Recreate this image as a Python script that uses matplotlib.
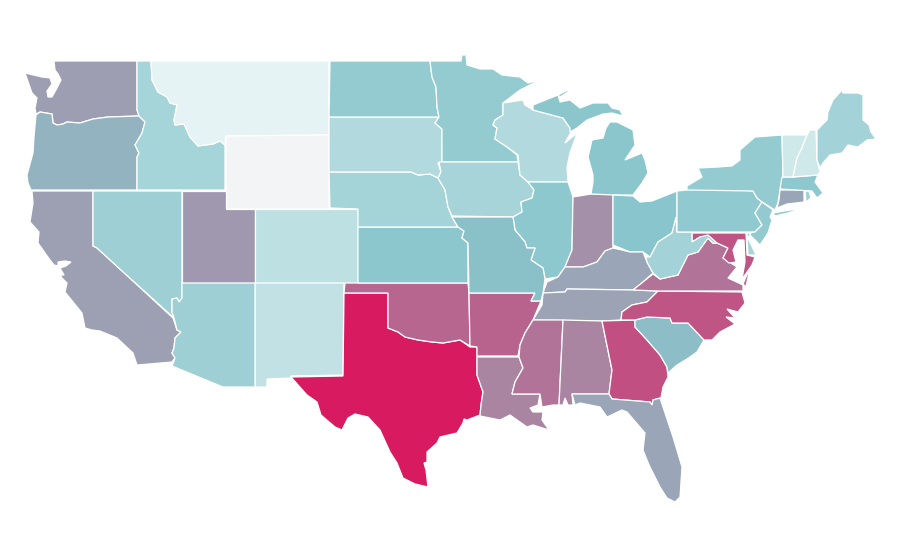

import matplotlib
matplotlib.use("Agg")
import matplotlib.pyplot as plt
from matplotlib.colors import LinearSegmentedColormap

# outlines: x, y in picture pixels, one list of rings per state
WA = [[(54,61),(137,61),(137,110),(139,116),(108,117),(93,119),(80,123),(67,122),(63,124),(57,125),(53,123),(52,114),(40,112),(36,114),(35,108),(37,98),(32,93),(25,73),(42,77),(50,78),(52,84),(47,91),(48,97),(52,97),(57,88),(61,80),(58,74),(55,70)]]
OR = [[(36,115),(40,112),(52,114),(53,123),(57,125),(63,124),(67,122),(80,123),(93,119),(108,117),(139,116),(145,122),(142,133),(135,145),(139,153),(137,157),(137,190),(31,190),(28,183),(27,175),(33,153),(34,137)]]
CA = [[(32,191),(93,191),(93,246),(97,248),(121,270),(173,318),(177,330),(181,332),(175,338),(174,348),(172,353),(175,358),(172,362),(137,365),(133,353),(117,338),(100,331),(92,330),(85,328),(82,313),(65,292),(67,283),(62,278),(57,270),(60,275),(64,275),(60,268),(66,266),(71,262),(65,261),(58,262),(58,266),(54,265),(50,260),(38,243),(39,232),(30,222),(33,203)]]
NV = [[(93,191),(182,191),(182,298),(179,302),(177,298),(172,299),(172,312),(174,318),(121,270),(97,248),(93,246)]]
ID = [[(137,61),(151,61),(152,80),(158,92),(167,97),(170,103),(177,105),(174,120),(175,125),(184,124),(190,137),(198,146),(213,144),(220,141),(225,145),(225,190),(137,190),(137,157),(139,153),(135,145),(142,133),(145,122),(139,116),(137,110)]]
MT = [[(151,61),(329,61),(329,135),(226,136),(225,145),(220,141),(213,144),(198,146),(190,137),(184,124),(175,125),(174,120),(177,105),(170,103),(167,97),(158,92),(152,80)]]
WY = [[(226,136),(329,135),(329,209),(226,209)]]
UT = [[(182,191),(226,191),(226,209),(255,209),(255,283),(182,283)]]
CO = [[(255,209),(358,209),(358,283),(255,283)]]
NM = [[(255,283),(344,283),(343,375),(291,376),(291,378),(267,379),(267,387),(255,387)]]
AZ = [[(182,283),(255,283),(255,387),(223,387),(172,366),(175,358),(172,353),(174,348),(175,338),(181,332),(177,330),(174,318),(172,312),(172,299),(177,298),(179,302),(182,298)]]
TX = [[(344,293),(388,293),(388,328),(398,332),(405,337),(418,340),(432,342),(443,343),(460,340),(470,347),(477,347),(477,375),(483,392),(481,405),(480,415),(467,420),(464,419),(463,423),(457,433),(440,437),(437,443),(427,452),(427,462),(424,463),(426,470),(428,487),(415,484),(403,478),(397,463),(390,452),(380,430),(368,417),(355,414),(348,418),(342,430),(335,427),(321,415),(317,402),(307,395),(291,377),(343,376)]]
OK = [[(345,283),(468,283),(469,293),(470,346),(460,340),(443,343),(432,342),(418,340),(405,337),(398,332),(388,328),(388,293),(344,293)]]
KS = [[(358,227),(458,227),(464,231),(462,238),(468,243),(468,283),(358,283)]]
NE = [[(329,172),(345,172),(411,172),(418,175),(430,174),(438,178),(445,190),(448,207),(452,217),(458,227),(358,227),(358,209),(330,208)]]
SD = [[(329,117),(439,117),(435,123),(442,129),(442,162),(438,163),(441,172),(438,178),(430,174),(418,175),(411,172),(329,172)]]
ND = [[(330,61),(430,61),(432,77),(436,87),(437,107),(439,117),(329,117)]]
MN = [[(430,61),(461,61),(462,55),(466,55),(467,65),(480,69),(493,69),(502,75),(520,77),(528,83),(540,80),(520,90),(503,103),(503,115),(495,120),(493,125),(497,128),(495,139),(507,147),(517,155),(518,162),(442,162),(442,129),(435,123),(439,117),(437,107),(436,87),(432,77)]]
IA = [[(439,162),(518,162),(520,175),(528,182),(534,190),(532,198),(521,202),(522,212),(513,217),(452,216),(448,207),(445,190),(438,178),(441,172)]]
WI = [[(503,103),(523,100),(525,105),(533,110),(563,118),(570,128),(571,132),(565,143),(577,133),(570,153),(567,167),(568,182),(528,182),(520,175),(518,155),(507,147),(495,139),(497,128),(493,125),(495,120),(503,115)]]
IL = [[(568,182),(528,182),(534,190),(532,198),(521,202),(522,212),(513,217),(515,230),(525,242),(527,248),(535,248),(531,260),(543,268),(545,279),(558,277),(565,267),(572,250),(573,197)]]
IN = [[(573,197),(591,194),(613,194),(613,248),(605,251),(597,262),(583,267),(565,267),(572,250)]]
MI = [[(591,194),(593,182),(593,175),(588,157),(592,140),(603,138),(606,128),(610,122),(617,122),(633,130),(635,145),(625,160),(642,153),(645,160),(648,173),(642,183),(633,195),(613,195)],
      [(533,105),(558,95),(560,102),(570,100),(580,108),(593,103),(600,103),(608,103),(612,108),(620,110),(623,116),(612,113),(603,114),(587,120),(577,128),(570,132),(570,128),(563,118),(533,110)],
      [(558,95),(568,90),(568,92),(560,97)]]
OH = [[(613,195),(633,196),(640,202),(652,201),(677,191),(677,217),(672,233),(658,242),(650,257),(643,252),(630,252),(613,245)]]
KY = [[(543,293),(547,282),(558,277),(565,267),(583,267),(597,262),(605,251),(613,248),(622,250),(630,252),(643,252),(647,262),(653,273),(642,283),(633,290),(567,289),(565,292)]]
TN = [[(543,293),(565,292),(567,289),(633,290),(658,291),(647,302),(632,305),(622,312),(621,320),(602,321),(533,320),(542,305)]]
AR = [[(469,293),(535,293),(531,301),(541,301),(533,320),(525,333),(520,345),(518,356),(477,356),(477,347),(470,346)]]
MO = [[(452,217),(513,217),(515,230),(525,242),(527,248),(535,248),(531,260),(543,268),(545,279),(543,293),(541,301),(531,301),(535,293),(469,293),(468,243),(462,238),(464,231),(458,227)]]
LA = [[(477,357),(519,357),(523,368),(515,382),(512,394),(540,394),(538,405),(530,408),(533,412),(543,412),(542,420),(549,430),(533,425),(527,427),(510,415),(500,420),(480,416),(481,405),(483,392),(477,375)]]
MS = [[(533,320),(563,320),(559,405),(553,405),(542,407),(540,394),(512,394),(515,382),(523,368),(519,357),(520,345),(525,333)]]
AL = [[(563,320),(602,321),(612,370),(609,394),(572,394),(573,405),(568,405),(565,398),(563,405),(559,405)]]
GA = [[(602,321),(635,320),(635,327),(647,340),(660,355),(667,367),(668,377),(663,387),(661,398),(653,400),(652,405),(650,402),(612,399),(609,394),(612,370)]]
SC = [[(635,320),(647,317),(670,318),(672,323),(688,323),(704,340),(697,352),(687,359),(677,365),(668,373),(667,367),(660,355),(647,340),(635,327)]]
NC = [[(658,291),(742,292),(745,303),(738,312),(727,309),(735,318),(726,317),(735,324),(720,332),(712,340),(704,340),(688,323),(672,323),(670,318),(647,317),(635,320),(621,320),(622,312),(632,305),(647,302)]]
FL = [[(572,394),(609,394),(612,399),(650,402),(652,405),(653,400),(660,398),(665,413),(673,437),(682,467),(680,497),(675,502),(667,498),(660,487),(650,467),(647,460),(643,450),(645,433),(627,412),(622,410),(607,417),(600,407),(580,403),(575,405)]]
VA = [[(633,290),(653,274),(660,279),(678,275),(688,255),(698,252),(708,238),(713,243),(717,243),(728,248),(723,258),(737,267),(728,278),(743,285),(743,291),(658,291)],
      [(745,279),(750,268),(746,287),(743,284)]]
MD = [[(692,233),(746,233),(747,255),(755,257),(752,265),(745,275),(742,279),(745,262),(744,240),(738,240),(733,250),(736,262),(729,263),(723,258),(728,248),(717,243),(713,243),(708,238),(700,237),(692,242)]]
WV = [[(646,257),(650,257),(658,242),(672,233),(676,217),(677,232),(692,232),(692,242),(700,237),(708,235),(717,243),(713,243),(708,238),(698,252),(688,255),(678,275),(660,279),(653,273),(647,262)]]
PA = [[(677,191),(687,190),(687,186),(753,191),(757,198),(762,202),(755,213),(762,225),(755,232),(746,232),(677,232)]]
NY = [[(687,190),(687,186),(702,177),(698,168),(718,167),(732,166),(740,160),(740,150),(755,137),(782,135),(783,177),(780,190),(778,203),(775,210),(762,202),(757,198),(753,191)],
      [(773,213),(802,208),(788,213),(775,216)]]
NJ = [[(762,202),(773,210),(770,217),(772,220),(768,233),(760,245),(752,237),(748,233),(755,232),(762,225),(755,213)]]
DE = [[(747,233),(751,233),(748,238),(756,255),(748,255)]]
CT = [[(780,190),(804,190),(804,202),(787,204),(777,208),(779,200)]]
RI = [[(805,191),(809,191),(811,198),(806,202)]]
MA = [[(782,177),(793,177),(818,175),(815,182),(823,193),(817,198),(812,191),(780,189)],
      [(822,197),(830,195),(822,198)]]
VT = [[(782,135),(807,135),(802,148),(797,158),(793,177),(783,177)]]
NH = [[(807,135),(810,130),(816,130),(817,160),(820,172),(818,175),(793,177),(797,158),(802,148)]]
ME = [[(817,130),(827,120),(828,112),(833,100),(842,90),(843,93),(858,93),(863,95),(863,120),(869,125),(871,132),(876,139),(867,140),(858,147),(848,145),(842,153),(830,155),(823,163),(820,168),(817,160)]]

STATES = [WA, OR, CA, NV, ID, MT, WY, UT, CO, NM, AZ, TX, OK, KS, NE, SD, ND, MN, IA, WI, IL, IN, MI, OH, KY,
          TN, AR, MO, LA, MS, AL, GA, SC, NC, FL, VA, MD, WV, PA, NY, NJ, DE, CT, RI, MA, VT, NH, ME]

# value of each state, same order as STATES
VALUES = [53, 44, 52, 28.5, 25.5, 5, 0, 55, 17.7, 16.7, 28.5, 100, 73, 33.7, 25.8, 21.2, 31, 31, 25.2, 21.2, 33.4, 58, 34.3, 35, 50,
          51, 74, 37, 62, 68, 62, 81, 39, 79, 50, 68, 79, 26.2, 32.7, 31.4, 32, 25, 50, 27, 33, 11.8, 11.8, 26.2]

cmap = LinearSegmentedColormap.from_list("mapa", [
    (0.0, "#f3f4f6"), (0.05, "#e4f3f4"), (0.35, "#88c5cc"), (0.5, "#9aa6b7"), (1.0, "#d81b60"),
])

fig, ax = plt.subplots(figsize=(9, 5.6), dpi=100)
fig.subplots_adjust(left=0, right=1, bottom=0, top=1)

for rings, valor in zip(STATES, VALUES):
    for ring in rings:
        xs, ys = zip(*ring)
        ax.fill(xs, ys, facecolor=cmap(valor / 100), edgecolor="white", linewidth=0.9)

ax.set_xlim(0, 900)
ax.set_ylim(560, 0)
ax.axis("off")

fig.savefig("out.png", dpi=100)
